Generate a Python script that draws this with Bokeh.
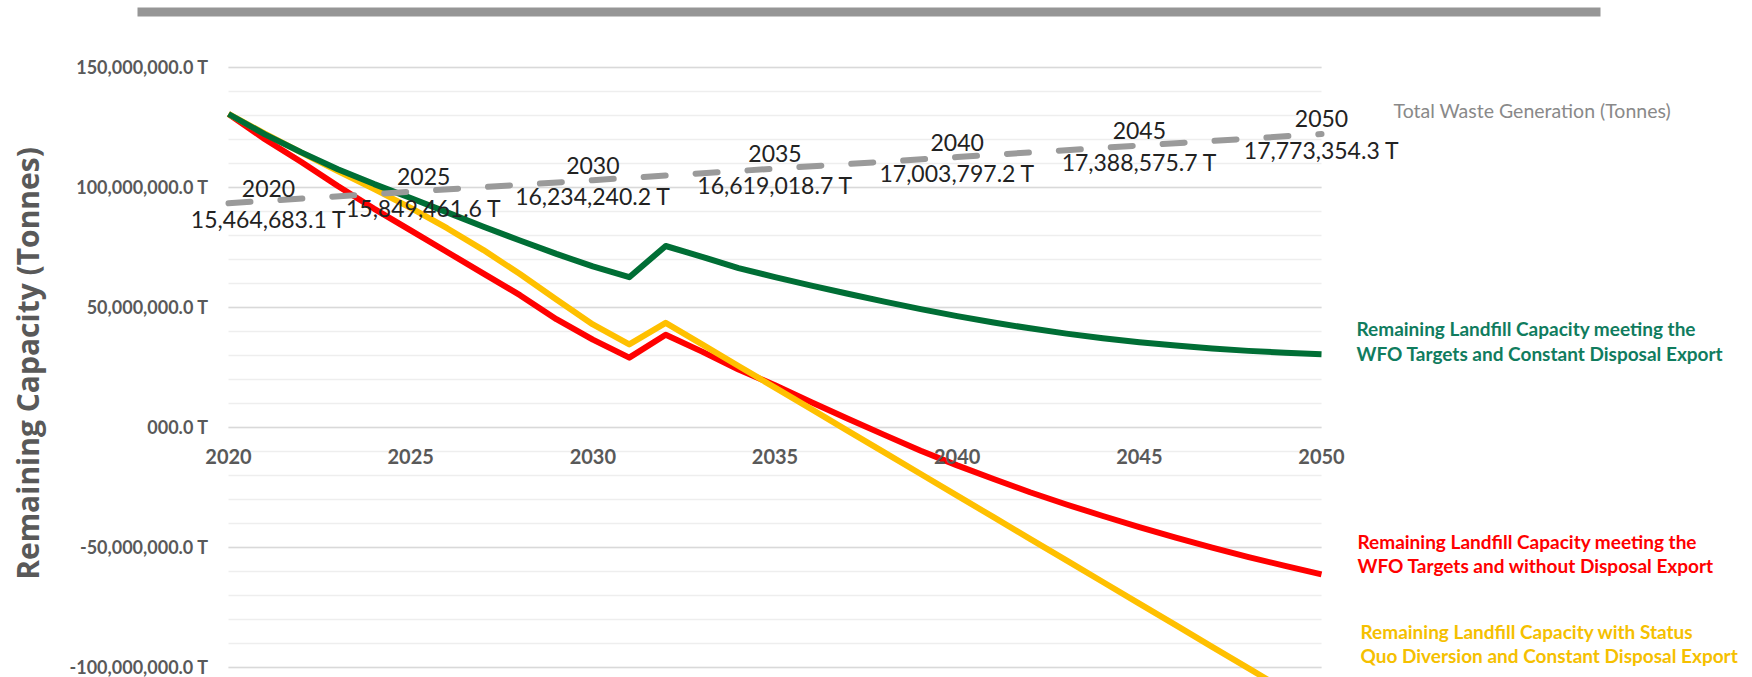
import math
from bokeh.plotting import figure
from bokeh.models import Range1d, FixedTicker, Label, ColumnDataSource, BoxAnnotation
from bokeh.embed import file_html
from bokeh.resources import INLINE
from bokeh.core.properties import value

# ---------------- data ----------------
years = list(range(2020, 2051))

# Remaining landfill capacity, millions of tonnes
wfo_constant_export = [130.5, 122.0, 114.5, 107.5, 101.3, 95.5, 89.5, 83.5, 77.8, 72.2,
                       67.0, 62.5, 75.5, 71.0, 66.3, 62.5, 59.0, 55.6, 52.3, 49.2,
                       46.3, 43.6, 41.2, 39.0, 37.1, 35.4, 34.0, 32.8, 31.8, 31.0, 30.4]
wfo_no_export = [130.5, 120.0, 110.5, 100.5, 91.0, 82.0, 73.0, 64.0, 55.0, 45.0,
                 36.5, 29.0, 38.5, 31.5, 24.0, 17.5, 10.4, 3.5, -3.2, -9.8,
                 -15.9, -21.6, -27.1, -32.2, -37.0, -41.6, -46.0, -50.2, -54.1, -57.8, -61.3]
status_quo = [130.5, 122.3, 114.4, 106.7, 99.2, 91.4, 82.9, 73.8, 63.8, 53.2,
              42.8, 34.5, 43.5, 34.5, 25.5, 16.5, 7.5, -1.5, -10.5, -19.5,
              -28.5, -37.5, -46.5, -55.5, -64.5, -73.5, -82.5, -91.5, -100.5, -109.5, -118.5]

waste_years = [2020, 2025, 2030, 2035, 2040, 2045, 2050]
total_waste_t = [15464683.1, 15849461.6, 16234240.2, 16619018.7,
                 17003797.2, 17388575.7, 17773354.3]

x_ticks = [2020, 2025, 2030, 2035, 2040, 2045, 2050]
y_ticks = [-100, -50, 0, 50, 100, 150]
y_tick_labels = ["-100,000,000.0 T", "-50,000,000.0 T", "000.0 T",
                 "50,000,000.0 T", "100,000,000.0 T", "150,000,000.0 T"]
y_minor = list(range(-100, 151, 10))

series_names = [
    ("Remaining Landfill Capacity meeting the", "WFO Targets and Constant Disposal Export"),
    ("Remaining Landfill Capacity meeting the", "WFO Targets and without Disposal Export"),
    ("Remaining Landfill Capacity with Status", "Quo Diversion and Constant Disposal Export"),
]
waste_name = "Total Waste Generation (Tonnes)"
y_title = "Remaining Capacity (Tonnes)"

# label layout (pixel nudges of the data labels)
label_dx = [40, 13, 0, 0, 0, 0, 0]

# ---------------- layout geometry ----------------
W, H = 1752, 677                 # canvas = whole window
PX_YEAR = 1093 / 30.0            # 2020..2050 spans 1093 px
X0_PX = 228                      # x pixel of 2020
PX_MT = 2.4                      # px per million tonnes
Y0_PX = 426.7                    # y pixel of 0 t
x_lo = 2020 - X0_PX / PX_YEAR
x_hi = 2020 + (W - X0_PX) / PX_YEAR
y_hi = Y0_PX / PX_MT
y_lo = -(H - Y0_PX) / PX_MT
# secondary axis: 0..20,000,000 t spans primary -100..150
def to_waste(v):
    return (v + 100) / 250 * 20000000
w_lo, w_hi = to_waste(y_lo), to_waste(y_hi)

def px_to_x(px):
    return 2020 + (px - X0_PX) / PX_YEAR

def py_to_y(py):
    return (Y0_PX - py) / PX_MT

GREEN, GREEN_TXT = "#006e35", "#107c5e"
RED = "#ff0000"
YELLOW, YELLOW_TXT = "#ffc000", "#f5c000"
GRAY = "#9a9a9a"
AXIS_TXT = "#595959"

p = figure(width=W, height=H,
           x_range=Range1d(x_lo, x_hi), y_range=Range1d(y_lo, y_hi),
           output_backend="svg", toolbar_location=None, min_border=0)
p.extra_y_ranges = {"waste": Range1d(w_lo, w_hi)}
p.outline_line_color = None
p.background_fill_color = "white"
p.border_fill_color = "white"

# grid
p.xgrid.grid_line_color = None
p.yaxis.ticker = FixedTicker(ticks=y_ticks, minor_ticks=y_minor)
p.ygrid.grid_line_color = "#d9d9d9"
p.ygrid.grid_line_width = 1.3
p.ygrid.minor_grid_line_color = "#eeeeee"
p.ygrid.minor_grid_line_width = 1.3
p.ygrid.cross_bounds = (2020, 2050)

# y axis at 2020
p.yaxis.fixed_location = 2020
p.yaxis.major_label_overrides = dict(zip(y_ticks, y_tick_labels))
p.yaxis.axis_line_color = None
p.yaxis.major_tick_line_color = None
p.yaxis.minor_tick_line_color = None
p.yaxis.major_label_standoff = 14
p.yaxis.major_label_text_font = "Lato"
p.yaxis.major_label_text_font_style = "bold"
p.yaxis.major_label_text_font_size = "18px"
p.yaxis.major_label_text_color = AXIS_TXT

# x axis crossing at zero
p.xaxis.ticker = FixedTicker(ticks=x_ticks)
p.xaxis.fixed_location = 0
p.xaxis.axis_line_color = None
p.xaxis.major_tick_line_color = None
p.xaxis.minor_tick_line_color = None
p.xaxis.major_label_standoff = 16
p.xaxis.major_label_text_font = "Lato"
p.xaxis.major_label_text_font_style = "bold"
p.xaxis.major_label_text_font_size = "20px"
p.xaxis.major_label_text_color = AXIS_TXT

# y axis title
p.add_layout(Label(x=px_to_x(26.8), y=py_to_y(363), text=y_title, angle=math.pi / 2,
                   text_align="center", text_baseline="middle", text_font="Open Sans",
                   text_font_style="bold", text_font_size="30px", text_color=AXIS_TXT))

# gray bar at the top
p.add_layout(BoxAnnotation(left=px_to_x(137), right=px_to_x(1600),
                           top=py_to_y(7), bottom=py_to_y(16),
                           fill_color="#969696", fill_alpha=1, line_color=None))

# lines
src = ColumnDataSource(dict(year=years, green=wfo_constant_export,
                            red=wfo_no_export, yellow=status_quo))
p.line("year", "red", source=src, line_color=RED, line_width=6, line_join="round")
p.line("year", "yellow", source=src, line_color=YELLOW, line_width=6, line_join="round")
p.line("year", "green", source=src, line_color=GREEN, line_width=6, line_join="round")

wsrc = ColumnDataSource(dict(
    year=waste_years, waste=total_waste_t,
    year_txt=[str(y) for y in waste_years],
    val_txt=[f"{v:,.1f} T" for v in total_waste_t],
    dx=label_dx))
p.line("year", "waste", source=wsrc, y_range_name="waste", line_color=GRAY,
       line_width=6, line_dash="22 30", line_cap="round")
p.text("year", "waste", text="year_txt", source=wsrc, y_range_name="waste",
       x_offset="dx", y_offset=-15, text_align="center", text_baseline="middle",
       text_font=value("Lato"), text_font_size="23px", text_color="#222222")
p.text("year", "waste", text="val_txt", source=wsrc, y_range_name="waste",
       x_offset="dx", y_offset=16, text_align="center", text_baseline="middle",
       text_font=value("Lato"), text_font_size="23px", text_color="#222222")

# right-hand series labels
def side_label(px, py, text, color, size="19px", bold=True):
    p.add_layout(Label(x=px_to_x(px), y=py_to_y(py), text=text, text_color=color,
                       text_font="Lato", text_font_size=size,
                       text_font_style="bold" if bold else "normal",
                       text_baseline="middle", text_align="left"))

side_label(1393, 110, waste_name, "#898989", size="19.5px", bold=False)
side_label(1356, 328, series_names[0][0], GREEN_TXT)
side_label(1356, 353, series_names[0][1], GREEN_TXT)
side_label(1357, 541, series_names[1][0], RED)
side_label(1357, 565, series_names[1][1], RED)
side_label(1360, 631, series_names[2][0], YELLOW_TXT)
side_label(1360, 655, series_names[2][1], YELLOW_TXT)

open("out.html", "w").write(file_html(p, INLINE))
